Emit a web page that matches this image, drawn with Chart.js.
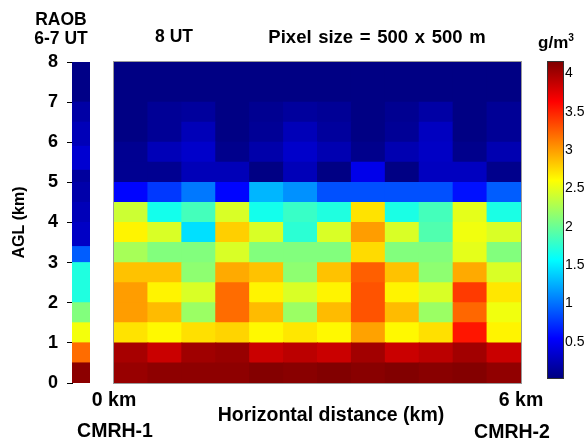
<!DOCTYPE html>
<html>
<head>
<meta charset="utf-8">
<script src="https://cdn.jsdelivr.net/npm/chart.js@4.4.0/dist/chart.umd.min.js"></script>
<style>
  html, body { margin: 0; padding: 0; background: #fff; }
  #wrap { position: relative; width: 587px; height: 446px; overflow: hidden;
          font-family: Arial, "Liberation Sans", sans-serif; font-weight: bold; color: #000; }
  #wrap canvas { position: absolute; left: 0; top: 0; }
  .lbl { position: absolute; transform: translate(-50%, -50%); white-space: nowrap; line-height: 1; }
  .lbl sup { font-size: 0.6em; vertical-align: 0.6em; }
</style>
</head>
<body>
<div id="wrap">
  <canvas id="raob" width="587" height="446"></canvas>
  <canvas id="main" width="587" height="446"></canvas>
  <canvas id="cbar" width="587" height="446"></canvas>
  <div class="lbl" style="left:61px;top:20px;font-size:17.5px">RAOB</div>
  <div class="lbl" style="left:61px;top:39px;font-size:17.5px">6-7 UT</div>
  <div class="lbl" style="left:174px;top:37px;font-size:17.5px">8 UT</div>
  <div class="lbl" style="left:377px;top:37px;font-size:18.5px;word-spacing:1.5px">Pixel size = 500 x 500 m</div>
  <div class="lbl" style="left:556px;top:42px;font-size:17px">g/m<sup>3</sup></div>
  <div class="lbl" style="left:331px;top:415px;font-size:19.5px">Horizontal distance (km)</div>
  <div class="lbl" style="left:115px;top:431px;font-size:19.5px">CMRH-1</div>
  <div class="lbl" style="left:512px;top:432px;font-size:19.5px">CMRH-2</div>
</div>
<script>
// --- Data (g/m3) ---
// 500 m pixels between CMRH-1 (0 km) and CMRH-2 (6 km), centre of each pixel
const columns = ["0.25", "0.75", "1.25", "1.75", "2.25", "2.75", "3.25", "3.75", "4.25", "4.75", "5.25", "5.75"];
// bottom of each 500 m layer (km AGL)
const rowBottoms = [0, 0.5, 1, 1.5, 2, 2.5, 3, 3.5, 4, 4.5, 5, 5.5, 6, 6.5, 7, 7.5];
const rowDepth = 0.5;

// one row per layer, bottom (0-0.5 km) first
const row00 = [4.05, 4.09, 4.09, 4.09, 4.13, 4.11, 4.14, 4.11, 4.14, 4.11, 4.13, 4.08];
const row05 = [3.99, 3.85, 4.02, 4.05, 3.85, 3.91, 3.85, 4.01, 3.85, 3.91, 4.01, 3.85];
const row10 = [2.72, 2.63, 2.73, 2.78, 2.63, 2.70, 2.63, 2.98, 2.63, 2.73, 3.55, 2.65];
const row15 = [3.00, 2.88, 2.20, 3.20, 2.88, 2.20, 2.88, 3.30, 2.88, 2.20, 3.22, 2.55];
const row20 = [3.00, 2.65, 2.45, 3.20, 2.65, 2.45, 2.65, 3.30, 2.65, 2.45, 3.40, 2.70];
const row25 = [2.85, 2.85, 2.15, 2.95, 2.85, 2.15, 2.85, 3.25, 2.85, 2.15, 2.95, 2.45];
const row30 = [2.25, 2.10, 2.10, 2.45, 2.10, 2.10, 2.10, 2.75, 2.10, 2.10, 2.50, 2.10];
const row35 = [2.65, 2.45, 1.45, 2.80, 2.45, 1.75, 2.45, 3.00, 2.45, 1.90, 2.55, 2.45];
const row40 = [2.40, 1.65, 1.85, 2.45, 1.65, 1.80, 1.70, 2.72, 1.68, 1.85, 2.50, 1.68];
const row45 = [0.56, 0.77, 1.03, 0.56, 1.28, 1.13, 0.87, 0.87, 0.87, 0.87, 0.61, 0.92];
const row50 = [0.10, 0.10, 0.26, 0.26, 0.05, 0.26, 0.05, 0.46, 0.05, 0.29, 0.29, 0.08];
const row55 = [0.10, 0.26, 0.33, 0.08, 0.20, 0.33, 0.23, 0.08, 0.23, 0.31, 0.08, 0.23];
const row60 = [0.05, 0.12, 0.26, 0.05, 0.12, 0.26, 0.15, 0.05, 0.12, 0.29, 0.05, 0.12];
const row65 = [0.05, 0.12, 0.15, 0.05, 0.10, 0.15, 0.12, 0.05, 0.10, 0.18, 0.05, 0.12];
const row70 = [0.05, 0.05, 0.05, 0.05, 0.05, 0.05, 0.05, 0.05, 0.05, 0.05, 0.05, 0.05];
const row75 = [0.05, 0.05, 0.05, 0.05, 0.05, 0.05, 0.05, 0.05, 0.05, 0.05, 0.05, 0.05];
const cells = [row00, row05, row10, row15, row20, row25, row30, row35,
               row40, row45, row50, row55, row60, row65, row70, row75];

// radiosonde profile, 6-7 UT
const raobBottoms = [0, 0.5, 1, 1.5, 2, 3, 3.4, 4, 4.5, 5, 5.3, 5.9, 6.5, 7];
const raobTops    = [0.5, 1, 1.5, 2, 3, 3.4, 4, 4.5, 5, 5.3, 5.9, 6.5, 7, 8];
const raobValues  = [4.10, 3.20, 2.56, 2.10, 1.70, 0.92, 0.31, 0.26, 0.20, 0.15, 0.36, 0.26, 0.18, 0.06];

const cbarTicks = [0.5, 1, 1.5, 2, 2.5, 3, 3.5, 4];
const C_MIN = 0.03;
const C_MAX = 4.15;

const FONT = "Arial, 'Liberation Sans', sans-serif";

// --- jet colour map ---
function jetT(t) {
  const f = x => Math.round(255 * Math.min(1, Math.max(0, x)));
  return `rgb(${f(1.5 - Math.abs(4 * t - 3))},${f(1.5 - Math.abs(4 * t - 2))},${f(1.5 - Math.abs(4 * t - 1))})`;
}
function jet(v) {
  return jetT(Math.min(1, Math.max(0, (v - C_MIN) / (C_MAX - C_MIN))));
}

// thin frame round the plot area
function frame(color) {
  return {
    id: "frame",
    afterDatasetsDraw(chart) {
      const a = chart.chartArea, c = chart.ctx;
      c.save();
      c.strokeStyle = color;
      c.lineWidth = 1;
      c.strokeRect(Math.round(a.left) - 0.5, Math.round(a.top) - 0.5,
                   Math.round(a.right - a.left) + 1, Math.round(a.bottom - a.top) + 1);
      c.restore();
    }
  };
}

const noPlugins = { legend: { display: false }, tooltip: { enabled: false } };

// --- RAOB column + height axis ---
new Chart(document.getElementById("raob"), {
  type: "bar",
  data: {
    labels: ["RAOB"],
    datasets: raobValues.map((v, i) => ({
      data: [[raobBottoms[i], raobTops[i]]],
      backgroundColor: jet(v),
      borderWidth: 0,
      inflateAmount: 0.5,
      barPercentage: 1,
      categoryPercentage: 1
    }))
  },
  options: {
    responsive: false,
    animation: false,
    layout: { padding: { left: 0, top: 62, right: 497, bottom: 63 } },
    plugins: noPlugins,
    scales: {
      x: { display: false, stacked: true },
      y: {
        min: 0, max: 8, position: "left", z: 1,
        ticks: { stepSize: 1, color: "#000", padding: 9, font: { family: FONT, size: 18, weight: "bold" } },
        grid: { drawOnChartArea: false, tickLength: 5, color: "#000" },
        border: { display: true, color: "#000" },
        title: { display: true, text: "AGL (km)", color: "#000",
                 font: { family: FONT, size: 16, weight: "bold" }, padding: { top: 10, bottom: 0 } },
        afterFit: s => { s.width = 72; }
      }
    }
  }
});

// --- 8 UT retrieval cross-section ---
new Chart(document.getElementById("main"), {
  type: "bar",
  data: {
    labels: columns,
    datasets: cells.map((row, r) => ({
      data: row.map(() => [rowBottoms[r], rowBottoms[r] + rowDepth]),
      backgroundColor: row.map(jet),
      borderWidth: 0,
      inflateAmount: 0.5,
      barPercentage: 1,
      categoryPercentage: 1
    }))
  },
  options: {
    responsive: false,
    animation: false,
    layout: { padding: { left: 114, top: 62, right: 66, bottom: 0 } },
    plugins: noPlugins,
    scales: {
      x: { display: false, stacked: true },
      y: { display: false, min: 0, max: 8 },
      km: {
        type: "linear", axis: "x", position: "bottom", min: 0, max: 6, offset: false,
        ticks: { stepSize: 6, color: "#000", padding: 6, callback: v => v + " km",
                 font: { family: FONT, size: 19.5, weight: "bold" } },
        grid: { display: false, drawTicks: false },
        border: { display: false },
        afterFit: s => { s.height = 63; }
      }
    }
  },
  plugins: [frame("#9a9a9a")]
});

// --- colour bar ---
new Chart(document.getElementById("cbar"), {
  type: "bar",
  data: {
    labels: ["g/m3"],
    datasets: [{
      data: [[C_MIN, C_MAX]],
      backgroundColor: ctx => {
        const a = ctx.chart.chartArea;
        if (!a) return "#888";
        const g = ctx.chart.ctx.createLinearGradient(0, a.bottom, 0, a.top);
        [0, 0.125, 0.375, 0.625, 0.875, 1].forEach(t => g.addColorStop(t, jetT(t)));
        return g;
      },
      borderWidth: 0,
      barPercentage: 1,
      categoryPercentage: 1
    }]
  },
  options: {
    responsive: false,
    animation: false,
    layout: { padding: { left: 548, top: 62, right: 0, bottom: 68 } },
    plugins: noPlugins,
    scales: {
      x: { display: false },
      y: {
        position: "right", min: C_MIN, max: C_MAX, z: 1,
        afterBuildTicks: s => { s.ticks = cbarTicks.map(v => ({ value: v })); },
        ticks: { color: "#000", padding: 6, callback: v => String(v), font: { family: FONT, size: 14 } },
        grid: { drawOnChartArea: false, tickLength: -4, color: "#000" },
        border: { display: false },
        afterFit: s => { s.width = 24; }
      }
    }
  },
  plugins: [frame("#333")]
});
</script>
</body>
</html>
